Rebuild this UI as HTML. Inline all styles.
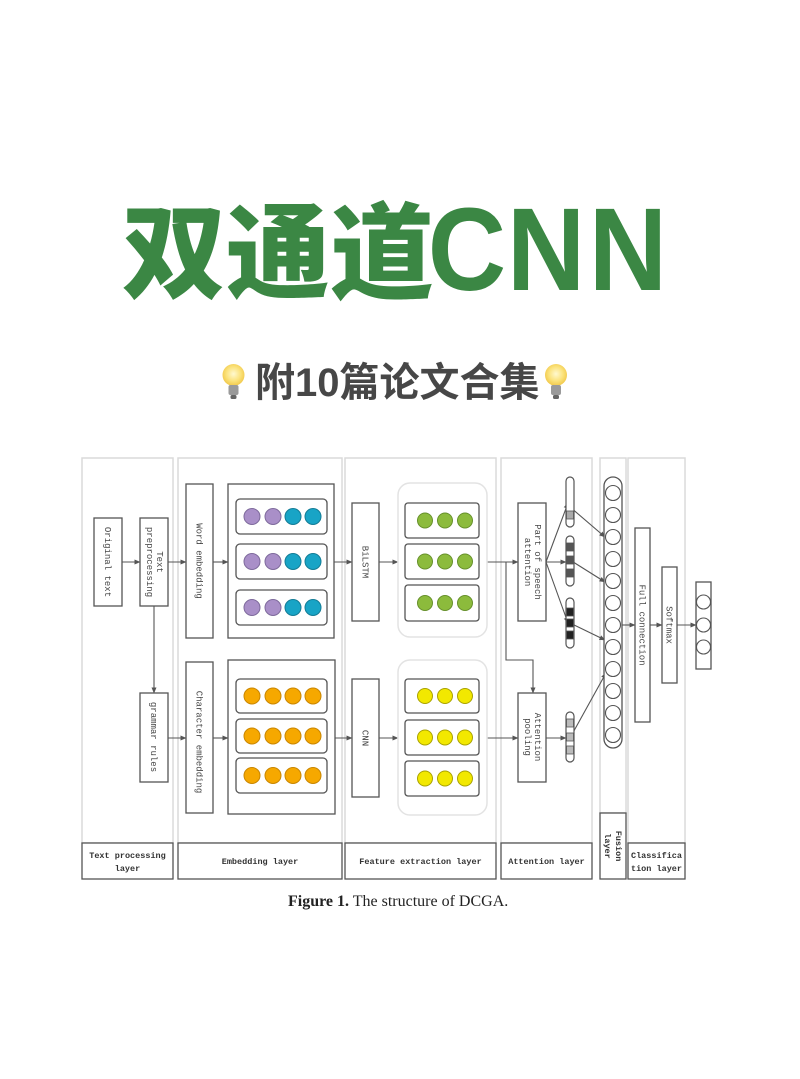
<!DOCTYPE html>
<html><head><meta charset="utf-8">
<style>
html,body{margin:0;padding:0;background:#fff;}
svg{display:block;}
.lbl{font-family:"Liberation Mono",monospace;font-size:9px;fill:#444;}
.bl{font-family:"Liberation Mono",monospace;font-size:8.5px;fill:#333;font-weight:bold;}
</style></head>
<body>
<svg width="800" height="1079" viewBox="0 0 800 1079" xmlns="http://www.w3.org/2000/svg">
<defs>
<marker id="a" markerUnits="userSpaceOnUse" markerWidth="6" markerHeight="6" refX="5.5" refY="3" orient="auto"><path d="M0,0.5 L6,3 L0,5.5 z" fill="#555"/></marker>
<radialGradient id="bulb" cx="50%" cy="45%" r="55%"><stop offset="0" stop-color="#fff9d0"/><stop offset="0.6" stop-color="#fbe27a"/><stop offset="1" stop-color="#f1c84a"/></radialGradient>
</defs>
<rect width="800" height="1079" fill="#fff"/>

<!-- Title -->
<text x="122" y="290" font-family="'Noto Sans CJK SC','WenQuanYi Zen Hei',sans-serif" font-weight="900" font-size="104" fill="#3b8744">双通道</text>
<g transform="scale(0.92,1)" font-family="'Liberation Sans',sans-serif" font-weight="bold" font-size="118" fill="#3b8744">
<text x="465" y="290">C</text>
<text x="551" y="290">N</text>
<text x="640" y="290">N</text>
</g>

<!-- Subtitle -->
<g>
<circle cx="233.5" cy="375" r="11" fill="url(#bulb)"/>
<rect x="228.5" y="385" width="10" height="10" rx="2" fill="#9a9a9a"/>
<rect x="230.5" y="395" width="6" height="4" rx="1.5" fill="#666"/>
</g>
<text x="255" y="396" font-family="'Liberation Sans','Noto Sans CJK SC',sans-serif" font-weight="bold" font-size="40" fill="#474747">附10篇论文合集</text>
<g>
<circle cx="556" cy="375" r="11" fill="url(#bulb)"/>
<rect x="551" y="385" width="10" height="10" rx="2" fill="#9a9a9a"/>
<rect x="553" y="395" width="6" height="4" rx="1.5" fill="#666"/>
</g>

<!-- Panels -->
<g fill="none" stroke="#dadada" stroke-width="1.5">
<rect x="82" y="458" width="91" height="385"/>
<rect x="178" y="458" width="164" height="385"/>
<rect x="345" y="458" width="151" height="385"/>
<rect x="501" y="458" width="91" height="385"/>
<rect x="600" y="458" width="26" height="355"/>
<rect x="628" y="458" width="57" height="385"/>
</g>
<g fill="#fff" stroke="#555" stroke-width="1.3">
<rect x="82" y="843" width="91" height="36"/>
<rect x="178" y="843" width="164" height="36"/>
<rect x="345" y="843" width="151" height="36"/>
<rect x="501" y="843" width="91" height="36"/>
<rect x="600" y="813" width="26" height="66"/>
<rect x="628" y="843" width="57" height="36"/>
</g>
<text class="bl" x="127.5" y="858" text-anchor="middle">Text processing</text>
<text class="bl" x="127.5" y="871" text-anchor="middle">layer</text>
<text class="bl" x="260" y="864" text-anchor="middle">Embedding layer</text>
<text class="bl" x="420.5" y="864" text-anchor="middle">Feature extraction layer</text>
<text class="bl" x="546.5" y="864" text-anchor="middle">Attention layer</text>
<text class="bl" x="656.5" y="858" text-anchor="middle">Classifica</text>
<text class="bl" x="656.5" y="871" text-anchor="middle">tion layer</text>
<g transform="translate(613,846) rotate(90)">
<text class="bl" x="0" y="-3" text-anchor="middle">Fusion</text>
<text class="bl" x="0" y="8" text-anchor="middle">layer</text>
</g>

<!-- Connectors -->
<g stroke="#555" stroke-width="1.1" fill="none">
<line x1="122" y1="562" x2="140" y2="562" marker-end="url(#a)"/>
<line x1="168" y1="562" x2="186" y2="562" marker-end="url(#a)"/>
<line x1="213" y1="562" x2="228" y2="562" marker-end="url(#a)"/>
<line x1="334" y1="562" x2="352" y2="562" marker-end="url(#a)"/>
<line x1="379" y1="562" x2="398" y2="562" marker-end="url(#a)"/>
<line x1="487" y1="562" x2="518" y2="562" marker-end="url(#a)"/>
<polyline points="506,562 506,660 533,660 533,693" marker-end="url(#a)"/>
<line x1="154" y1="606" x2="154" y2="693" marker-end="url(#a)"/>
<line x1="168" y1="738" x2="186" y2="738" marker-end="url(#a)"/>
<line x1="213" y1="738" x2="228" y2="738" marker-end="url(#a)"/>
<line x1="335" y1="738" x2="352" y2="738" marker-end="url(#a)"/>
<line x1="379" y1="738" x2="398" y2="738" marker-end="url(#a)"/>
<line x1="487" y1="738" x2="518" y2="738" marker-end="url(#a)"/>
<line x1="546" y1="738" x2="566" y2="738" marker-end="url(#a)"/>
<line x1="546" y1="562" x2="568" y2="503" marker-end="url(#a)"/>
<line x1="546" y1="562" x2="566" y2="562" marker-end="url(#a)"/>
<line x1="546" y1="562" x2="568" y2="623" marker-end="url(#a)"/>
<line x1="570" y1="507" x2="605" y2="537" marker-end="url(#a)"/>
<line x1="570" y1="560" x2="605" y2="582" marker-end="url(#a)"/>
<line x1="570" y1="623" x2="605" y2="640" marker-end="url(#a)"/>
<line x1="570" y1="738" x2="606" y2="673" marker-end="url(#a)"/>
<line x1="622" y1="625" x2="635" y2="625" marker-end="url(#a)"/>
<line x1="650" y1="625" x2="662" y2="625" marker-end="url(#a)"/>
<line x1="677" y1="625" x2="696" y2="625" marker-end="url(#a)"/>
</g>

<!-- Boxes -->
<g fill="#fff" stroke="#555" stroke-width="1.3">
<rect x="94" y="518" width="28" height="88"/>
<rect x="140" y="518" width="28" height="88"/>
<rect x="140" y="693" width="28" height="89"/>
<rect x="186" y="484" width="27" height="154"/>
<rect x="186" y="662" width="27" height="151"/>
<rect x="228" y="484" width="106" height="154"/>
<rect x="228" y="660" width="107" height="154"/>
<rect x="352" y="503" width="27" height="118"/>
<rect x="352" y="679" width="27" height="118"/>
<rect x="518" y="503" width="28" height="118"/>
<rect x="518" y="693" width="28" height="89"/>
<rect x="635" y="528" width="15" height="194"/>
<rect x="662" y="567" width="15" height="116"/>
<rect x="696" y="582" width="15" height="87"/>
</g>
<g fill="#fff" stroke="#555" stroke-width="1.3">
<rect x="236" y="499" width="91" height="35" rx="4"/>
<rect x="236" y="544" width="91" height="35" rx="4"/>
<rect x="236" y="590" width="91" height="35" rx="4"/>
<rect x="236" y="679" width="91" height="34" rx="4"/>
<rect x="236" y="719" width="91" height="34" rx="4"/>
<rect x="236" y="758" width="91" height="35" rx="4"/>
</g>
<g fill="none" stroke="#e3e3e3" stroke-width="1.5">
<rect x="398" y="483" width="89" height="154" rx="12"/>
<rect x="398" y="660" width="89" height="155" rx="12"/>
</g>
<g fill="#fff" stroke="#555" stroke-width="1.3">
<rect x="405" y="503" width="74" height="35" rx="3"/>
<rect x="405" y="544" width="74" height="35" rx="3"/>
<rect x="405" y="585" width="74" height="36" rx="3"/>
<rect x="405" y="679" width="74" height="34" rx="3"/>
<rect x="405" y="720" width="74" height="35" rx="3"/>
<rect x="405" y="761" width="74" height="35" rx="3"/>
</g>

<!-- Circles: embedding -->
<g stroke-width="1">
<g fill="#a98fc8" stroke="#7e6a9c">
<circle cx="252" cy="516.5" r="8"/><circle cx="273" cy="516.5" r="8"/>
<circle cx="252" cy="561.5" r="8"/><circle cx="273" cy="561.5" r="8"/>
<circle cx="252" cy="607.5" r="8"/><circle cx="273" cy="607.5" r="8"/>
</g>
<g fill="#18a4c6" stroke="#137c96">
<circle cx="293" cy="516.5" r="8"/><circle cx="313" cy="516.5" r="8"/>
<circle cx="293" cy="561.5" r="8"/><circle cx="313" cy="561.5" r="8"/>
<circle cx="293" cy="607.5" r="8"/><circle cx="313" cy="607.5" r="8"/>
</g>
<g fill="#f6a800" stroke="#c98600">
<circle cx="252" cy="696" r="8"/><circle cx="273" cy="696" r="8"/><circle cx="293" cy="696" r="8"/><circle cx="313" cy="696" r="8"/>
<circle cx="252" cy="736" r="8"/><circle cx="273" cy="736" r="8"/><circle cx="293" cy="736" r="8"/><circle cx="313" cy="736" r="8"/>
<circle cx="252" cy="775.5" r="8"/><circle cx="273" cy="775.5" r="8"/><circle cx="293" cy="775.5" r="8"/><circle cx="313" cy="775.5" r="8"/>
</g>
<g fill="#8cbb3c" stroke="#66902a">
<circle cx="425" cy="520.5" r="7.5"/><circle cx="445" cy="520.5" r="7.5"/><circle cx="465" cy="520.5" r="7.5"/>
<circle cx="425" cy="561.5" r="7.5"/><circle cx="445" cy="561.5" r="7.5"/><circle cx="465" cy="561.5" r="7.5"/>
<circle cx="425" cy="603" r="7.5"/><circle cx="445" cy="603" r="7.5"/><circle cx="465" cy="603" r="7.5"/>
</g>
<g fill="#f2e800" stroke="#a9a200">
<circle cx="425" cy="696" r="7.5"/><circle cx="445" cy="696" r="7.5"/><circle cx="465" cy="696" r="7.5"/>
<circle cx="425" cy="737.5" r="7.5"/><circle cx="445" cy="737.5" r="7.5"/><circle cx="465" cy="737.5" r="7.5"/>
<circle cx="425" cy="778.5" r="7.5"/><circle cx="445" cy="778.5" r="7.5"/><circle cx="465" cy="778.5" r="7.5"/>
</g>
</g>

<!-- Pills -->
<g fill="#fff" stroke="#555" stroke-width="1.2">
<rect x="566" y="477" width="8" height="50" rx="4"/>
<rect x="566" y="536" width="8" height="50" rx="4"/>
<rect x="566" y="598" width="8" height="50" rx="4"/>
<rect x="566" y="712" width="8" height="50" rx="4"/>
</g>
<g stroke="#555" stroke-width="0.8">
<rect x="566.5" y="511" width="7" height="8" fill="#aaa"/>
<rect x="566.5" y="543" width="7" height="8" fill="#555"/>
<rect x="566.5" y="556" width="7" height="8" fill="#555"/>
<rect x="566.5" y="569" width="7" height="8" fill="#555"/>
<rect x="566.5" y="608" width="7" height="8" fill="#222"/>
<rect x="566.5" y="619" width="7" height="8" fill="#222"/>
<rect x="566.5" y="631" width="7" height="8" fill="#222"/>
<rect x="566.5" y="719" width="7" height="8" fill="#bbb"/>
<rect x="566.5" y="733" width="7" height="8" fill="#bbb"/>
<rect x="566.5" y="746" width="7" height="8" fill="#bbb"/>
</g>

<!-- Fusion column -->
<rect x="604" y="477" width="18" height="271" rx="9" fill="#fff" stroke="#555" stroke-width="1.3"/>
<g fill="#fff" stroke="#555" stroke-width="1.1">
<circle cx="613" cy="493" r="7.5"/><circle cx="613" cy="515" r="7.5"/><circle cx="613" cy="537" r="7.5"/>
<circle cx="613" cy="559" r="7.5"/><circle cx="613" cy="581" r="7.5"/><circle cx="613" cy="603" r="7.5"/>
<circle cx="613" cy="625" r="7.5"/><circle cx="613" cy="647" r="7.5"/><circle cx="613" cy="669" r="7.5"/>
<circle cx="613" cy="691" r="7.5"/><circle cx="613" cy="713" r="7.5"/><circle cx="613" cy="735" r="7.5"/>
</g>
<!-- Output -->
<g fill="#fff" stroke="#555" stroke-width="1.1">
<circle cx="703.5" cy="602" r="7"/><circle cx="703.5" cy="625" r="7"/><circle cx="703.5" cy="647" r="7"/>
</g>

<!-- Rotated labels -->
<text class="lbl" transform="translate(108,562) rotate(90)" text-anchor="middle" y="3">Original text</text>
<g transform="translate(154,562) rotate(90)">
<text class="lbl" text-anchor="middle" y="-3">Text</text>
<text class="lbl" text-anchor="middle" y="7">preprocessing</text>
</g>
<text class="lbl" transform="translate(154,737) rotate(90)" text-anchor="middle" y="3">grammar rules</text>
<text class="lbl" transform="translate(199.5,561) rotate(90)" text-anchor="middle" y="3">Word embedding</text>
<text class="lbl" transform="translate(199.5,742) rotate(90)" text-anchor="middle" y="3">Character embedding</text>
<text class="lbl" transform="translate(365.5,562) rotate(90)" text-anchor="middle" y="3">BiLSTM</text>
<text class="lbl" transform="translate(365.5,738) rotate(90)" text-anchor="middle" y="3">CNN</text>
<g transform="translate(532,562) rotate(90)">
<text class="lbl" text-anchor="middle" y="-3">Part of speech</text>
<text class="lbl" text-anchor="middle" y="7">attention</text>
</g>
<g transform="translate(532,737) rotate(90)">
<text class="lbl" text-anchor="middle" y="-3">Attention</text>
<text class="lbl" text-anchor="middle" y="7">pooling</text>
</g>
<text class="lbl" transform="translate(642.5,625) rotate(90)" text-anchor="middle" y="3">Full connection</text>
<text class="lbl" transform="translate(669.5,625) rotate(90)" text-anchor="middle" y="3">Softmax</text>

<!-- Caption -->
<text x="288" y="906" font-family="'Liberation Serif',serif" font-size="16" fill="#222"><tspan font-weight="bold">Figure 1.</tspan> The structure of DCGA.</text>
</svg>
</body></html>
